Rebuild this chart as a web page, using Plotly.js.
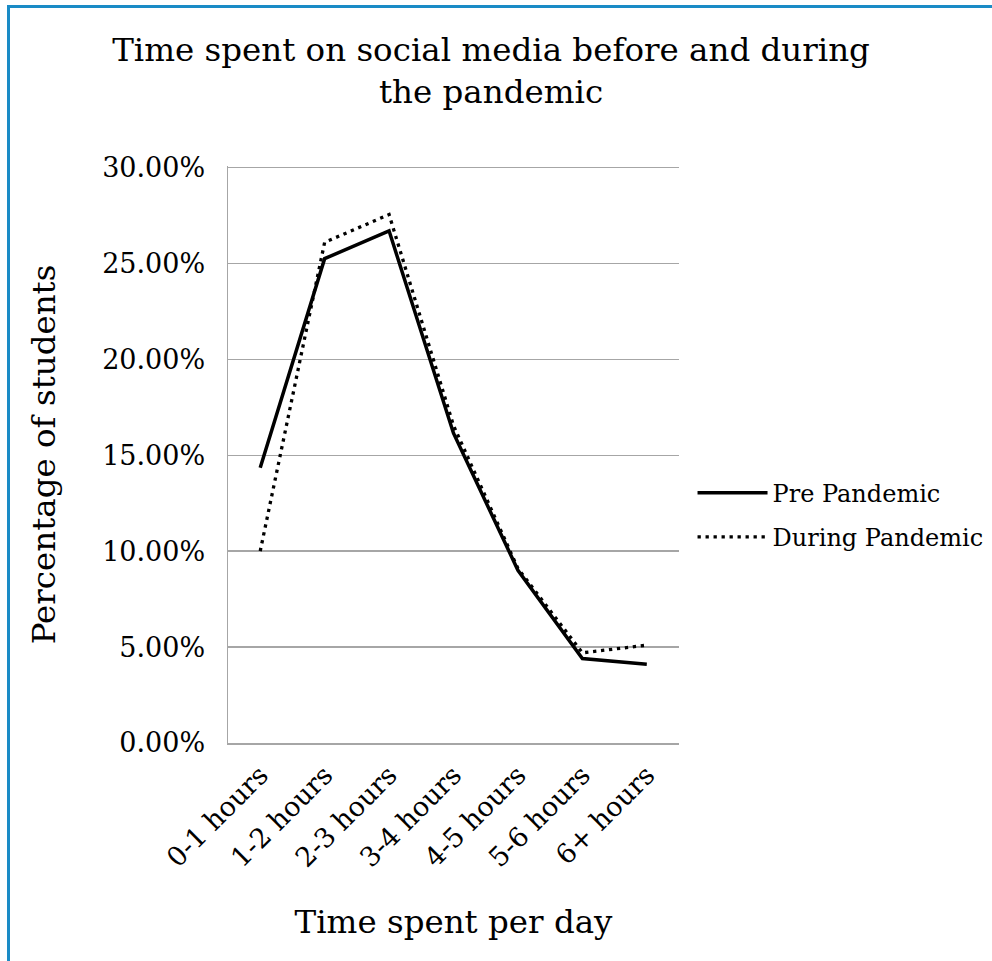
<!DOCTYPE html>
<html>
<head>
<meta charset="utf-8">
<script src="https://cdn.plot.ly/plotly-3.0.1.min.js"></script>
<style>
  html, body { margin: 0; padding: 0; background: #ffffff; }
  #frame { position: absolute; left: 7px; top: 5px; width: 1100px; height: 1100px;
           border-left: 3px solid #1a8bc6; border-top: 3px solid #1a8bc6; box-sizing: border-box; }
  #chart { position: absolute; left: 0; top: 0; width: 992px; height: 961px; }
</style>
</head>
<body>
<div id="frame"></div>
<div id="chart"></div>
<script>
const categories = ["0-1 hours", "1-2 hours", "2-3 hours", "3-4 hours", "4-5 hours", "5-6 hours", "6+ hours"];
const prePandemic = [14.35, 25.25, 26.70, 16.15, 9.00, 4.40, 4.10];
const duringPandemic = [10.00, 26.10, 27.55, 16.55, 9.10, 4.70, 5.10];
const seriesNames = ["Pre Pandemic", "During Pandemic"];
const yTickValues = [0, 5, 10, 15, 20, 25, 30];
const yTickLabels = ["0.00%", "5.00%", "10.00%", "15.00%", "20.00%", "25.00%", "30.00%"];

const serif = "DejaVu Serif, Liberation Serif, serif";

const traces = [
  {
    x: categories, y: prePandemic, name: seriesNames[0], type: "scatter", mode: "lines",
    line: { color: "#000000", width: 3.5 }, legendgroup: "a"
  },
  {
    x: categories, y: duringPandemic, name: seriesNames[1], type: "scatter", mode: "lines",
    line: { color: "#000000", width: 3.3, dash: "3.3px,4.7px" }, legendgroup: "b"
  }
];

const layout = {
  width: 992, height: 961,
  paper_bgcolor: "rgba(0,0,0,0)", plot_bgcolor: "rgba(0,0,0,0)",
  margin: { l: 228, r: 313, t: 166, b: 218, autoexpand: false },
  font: { family: serif, color: "#000000" },
  title: {
    text: "Time spent on social media before and during<br>the pandemic",
    font: { family: serif, size: 32.5, color: "#000000" },
    x: 0.495, xanchor: "center", xref: "container",
    y: 0.937, yanchor: "top", yref: "container"
  },
  xaxis: {
    type: "category", range: [-0.5, 6.5],
    showline: true, linecolor: "#a6a6a6", linewidth: 1.5,
    showgrid: false, zeroline: false, ticks: "",
    tickangle: -45, tickfont: { family: serif, size: 27, color: "#000000" },
    ticklabelstandoff: 4,
    title: { text: "Time spent per day", font: { family: serif, size: 32.5, color: "#000000" }, standoff: 38 },
    automargin: false
  },
  yaxis: {
    range: [0, 30.08], tickmode: "array", tickvals: yTickValues, ticktext: yTickLabels,
    showline: true, linecolor: "#a6a6a6", linewidth: 1.5,
    showgrid: true, gridcolor: "#a6a6a6", gridwidth: 1.5, zeroline: false, ticks: "",
    tickfont: { family: serif, size: 27, color: "#000000" },
    ticklabelstandoff: 16,
    title: { text: "Percentage of students", font: { family: serif, size: 32.5, color: "#000000" }, standoff: 37 },
    automargin: false
  },
  showlegend: true,
  legend: {
    x: 1.03, xanchor: "left", y: 0.395, yanchor: "middle",
    font: { family: serif, size: 24, color: "#000000" },
    traceorder: "grouped", tracegroupgap: 10, itemwidth: 70,
    bgcolor: "rgba(0,0,0,0)"
  }
};

Plotly.newPlot("chart", traces, layout, { displayModeBar: false, staticPlot: true });
</script>
</body>
</html>
